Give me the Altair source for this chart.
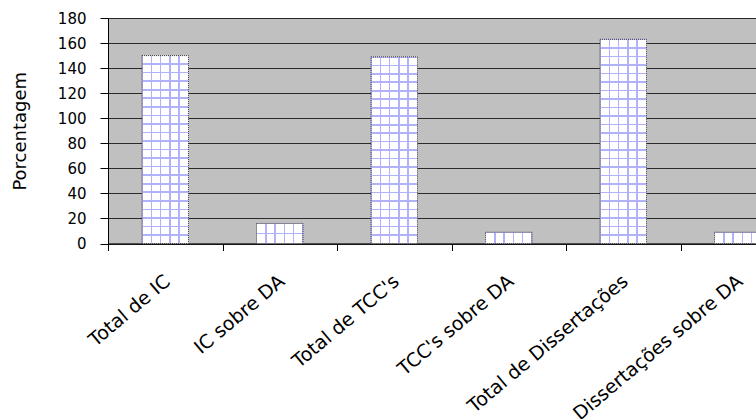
import altair as alt
import pandas as pd

# Shares per category (percent)
categories = [
    "Total de IC",
    "IC sobre DA",
    "Total de TCC's",
    "TCC's sobre DA",
    "Total de Dissertações",
    "Dissertações sobre DA",
]
values = [150, 16, 149, 9, 163, 9]
y_ticks = [0, 20, 40, 60, 80, 100, 120, 140, 160, 180]

df = pd.DataFrame({"cat": categories, "val": values})

PLOT_W = 648          # visible part of the plot area
PLOT_H = 225.5
X_RANGE = 687         # band scale runs past the right edge of the page
Y_MAX = 180
CELL = 8.6            # spacing of the grid pattern inside the bars
LINE = "#b2b2fa"
CLEAR = "rgba(255,255,255,0)"
FONT = "DejaVu Sans"


def stripe_gradient(n, vertical_lines, width_frac):
    """Linear gradient that paints n+1 thin lines across a bar's box."""
    stops = []
    for k in range(n + 1):
        c = k / n
        a = max(0.0, c - width_frac / 2)
        b = min(1.0, c + width_frac / 2)
        stops += [
            alt.GradientStop(offset=a, color=CLEAR),
            alt.GradientStop(offset=a, color=LINE),
            alt.GradientStop(offset=b, color=LINE),
            alt.GradientStop(offset=b, color=CLEAR),
        ]
    if vertical_lines:
        return alt.LinearGradient(gradient="linear", stops=stops, x1=0, y1=0, x2=1, y2=0)
    return alt.LinearGradient(gradient="linear", stops=stops, x1=0, y1=0, x2=0, y2=1)


x_enc = alt.X(
    "cat:N",
    sort=categories,
    scale=alt.Scale(range=[0, X_RANGE], paddingInner=0, paddingOuter=0),
    axis=alt.Axis(
        title=None,
        labelAngle=320,
        labelAlign="right",
        labelBaseline="top",
        labelOffset=-4,
        labelPadding=21,
        labelFont=FONT,
        labelFontSize=19,
        labelColor="black",
        labelLimit=0,
        labelOverlap=False,
        tickBand="extent",
        tickSize=7,
        tickColor="black",
        domainColor="black",
        grid=False,
    ),
)
y_enc = alt.Y(
    "val:Q",
    scale=alt.Scale(domain=[0, Y_MAX], nice=False),
    axis=alt.Axis(
        title="Porcentagem",
        values=y_ticks,
        titleFont=FONT,
        titleFontSize=18,
        titleFontWeight="normal",
        titleColor="black",
        titlePadding=28,
        labelFont=FONT,
        labelFontSize=15,
        labelColor="black",
        labelPadding=14,
        tickSize=8,
        tickColor="black",
        domainColor="black",
        gridColor="#2b2b2b",
        gridOpacity=1,
    ),
)

BAR_W = alt.RelativeBandSize(0.406)
base = alt.Chart(df).encode(x=x_enc, y=y_enc)

# white body of each bar
body = base.mark_bar(width=BAR_W, fill="white", strokeWidth=0)

# vertical lines of the grid pattern (same for every bar)
vlines = base.mark_bar(
    width=BAR_W, fill=stripe_gradient(5, True, 0.034), strokeWidth=0
)

# horizontal lines, one layer per bar so the spacing follows its height
px_per_unit = PLOT_H / Y_MAX
hlayers = []
for c, v in zip(categories, values):
    h = v * px_per_unit
    n = max(1, round(h / CELL))
    hlayers.append(
        base.transform_filter(alt.FieldEqualPredicate(field="cat", equal=c)).mark_bar(
            width=BAR_W, fill=stripe_gradient(n, False, 1.6 / h), strokeWidth=0
        )
    )

# dotted outline
outline = base.mark_bar(
    width=BAR_W,
    fillOpacity=0,
    stroke="#3c3c3c",
    strokeWidth=1,
    strokeDash=[1, 1],
)

chart = (
    alt.layer(body, vlines, *hlayers, outline)
    .properties(
        width=PLOT_W,
        height=PLOT_H,
        autosize="none",
        padding={"left": 108, "top": 18, "right": 0, "bottom": 175.5},
        background="white",
    )
    .configure_view(fill="#c0c0c0", stroke="#808080", strokeWidth=1)
)

chart.save("out.html", embed_options={"renderer": "svg", "actions": False})
